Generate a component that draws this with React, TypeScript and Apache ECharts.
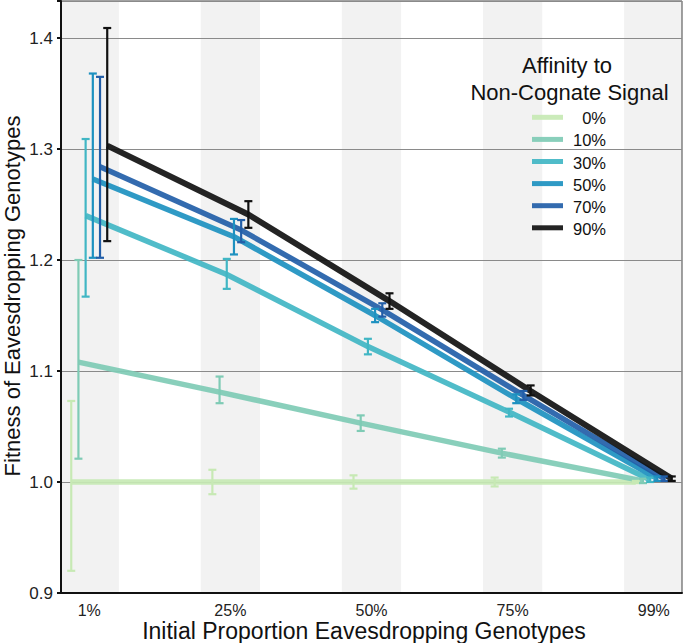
import React, { useEffect, useRef } from "react";
import * as echarts from "echarts";

// ---- data ----
const categories = ["1%", "25%", "50%", "75%", "99%"];
const seriesNames = ["0%", "10%", "30%", "50%", "70%", "90%"];
const seriesColors = ["#c7e9b4", "#7fcbb5", "#41b6c4", "#1d91c0", "#225ea8", "#111111"];

const mean0 = [1.0, 1.0, 1.0, 1.0, 1.0];
const mean10 = [1.108, 1.081, 1.053, 1.026, 1.001];
const mean30 = [1.24, 1.187, 1.122, 1.063, 1.002];
const mean50 = [1.273, 1.221, 1.15, 1.075, 1.003];
const mean70 = [1.284, 1.227, 1.155, 1.078, 1.003];
const mean90 = [1.303, 1.241, 1.163, 1.082, 1.003];

const low0 = [0.92, 0.989, 0.994, 0.996, 0.999];
const high0 = [1.073, 1.011, 1.006, 1.004, 1.001];
const low10 = [1.021, 1.071, 1.046, 1.022, 0.999];
const high10 = [1.2, 1.095, 1.06, 1.03, 1.003];
const low30 = [1.167, 1.174, 1.115, 1.059, 1.0];
const high30 = [1.309, 1.201, 1.129, 1.066, 1.004];
const low50 = [1.202, 1.205, 1.144, 1.071, 1.001];
const high50 = [1.368, 1.237, 1.156, 1.079, 1.005];
const low70 = [1.202, 1.216, 1.149, 1.074, 1.001];
const high70 = [1.365, 1.236, 1.161, 1.082, 1.005];
const low90 = [1.217, 1.229, 1.156, 1.078, 1.001];
const high90 = [1.409, 1.253, 1.17, 1.087, 1.005];

const yTicks = [0.9, 1.0, 1.1, 1.2, 1.3, 1.4];

const means = [mean0, mean10, mean30, mean50, mean70, mean90];
const lows = [low0, low10, low30, low50, low70, low90];
const highs = [high0, high10, high30, high50, high70, high90];

const FONT = "'Liberation Sans', Arial, Helvetica, sans-serif";
const Y_MIN = 0.9;
const Y_MAX = 0.9 + 592 / 1110;
const DODGE = 0.051;
const BAND_HALF = 0.21;

export default function App() {
  const ref = useRef<HTMLDivElement>(null);

  useEffect(() => {
    if (!ref.current) return;
    document.body.style.margin = "0";
    const chart = echarts.init(ref.current, null, { renderer: "svg" });

    const bandSeries = {
      type: "custom",
      z: 0,
      silent: true,
      data: categories.map((_, i) => [i]),
      encode: { x: 0 },
      renderItem: (params: any, api: any) => {
        const c = api.value(0);
        const cs = params.coordSys;
        const a = api.coord([c - BAND_HALF, Y_MIN]);
        const b = api.coord([c + BAND_HALF, Y_MIN]);
        const x0 = Math.max(cs.x, a[0]);
        const x1 = Math.min(cs.x + cs.width, b[0]);
        return {
          type: "rect",
          shape: { x: x0, y: cs.y, width: x1 - x0, height: cs.height },
          style: { fill: "#f2f2f2" },
        };
      },
    };

    const lineSeries = seriesNames.map((name, s) => {
      const off = (s - 2.5) * DODGE;
      return {
        type: "line",
        name,
        z: 3 + s * 0.1,
        symbol: "none",
        data: means[s].map((v, i) => [i + off, v]),
        lineStyle: { color: seriesColors[s], width: s === 5 ? 6 : 5.5, opacity: 0.92 },
        itemStyle: { color: seriesColors[s] },
      };
    });

    const errSeries = seriesNames.map((name, s) => {
      const off = (s - 2.5) * DODGE;
      const color = seriesColors[s];
      return {
        type: "custom",
        name: name + " err",
        z: 4,
        silent: true,
        data: means[s].map((_, i) => [i + off, lows[s][i], highs[s][i]]),
        encode: { x: 0, y: [1, 2] },
        renderItem: (params: any, api: any) => {
          const x = api.value(0);
          const p1 = api.coord([x, api.value(1)]);
          const p2 = api.coord([x, api.value(2)]);
          const hw = 4;
          const st = { stroke: color, lineWidth: 2.2 };
          return {
            type: "group",
            children: [
              { type: "line", shape: { x1: p1[0], y1: p1[1], x2: p2[0], y2: p2[1] }, style: st },
              { type: "line", shape: { x1: p1[0] - hw, y1: p1[1], x2: p1[0] + hw, y2: p1[1] }, style: st },
              { type: "line", shape: { x1: p2[0] - hw, y1: p2[1], x2: p2[0] + hw, y2: p2[1] }, style: st },
            ],
          };
        },
      };
    });

    const legendTop = 117.3;
    const legendStep = 22.1;
    const legendGraphics: any[] = [
      {
        type: "text",
        z: 100,
        x: 567,
        y: 65,
        style: { text: "Affinity to", font: `22px ${FONT}`, fill: "#111", align: "center", verticalAlign: "middle" },
      },
      {
        type: "text",
        z: 100,
        x: 569.5,
        y: 92,
        style: { text: "Non-Cognate Signal", font: `22px ${FONT}`, fill: "#111", align: "center", verticalAlign: "middle" },
      },
    ];
    seriesNames.forEach((name, s) => {
      const cy = legendTop + s * legendStep;
      legendGraphics.push({
        type: "rect",
        z: 100,
        shape: { x: 532, y: cy - 2.5, width: 31, height: 5 },
        style: { fill: seriesColors[s], opacity: 0.92 },
      });
      legendGraphics.push({
        type: "text",
        z: 100,
        x: 606,
        y: cy + 1,
        style: { text: name, font: `16.5px ${FONT}`, fill: "#111", align: "right", verticalAlign: "middle" },
      });
    });

    chart.setOption({
      animation: false,
      grid: {
        left: 61,
        right: 2,
        top: 1,
        bottom: 50,
        show: true,
        borderColor: "#444",
        borderWidth: 1,
        backgroundColor: "transparent",
        z: 1,
      },
      xAxis: {
        type: "value",
        min: -0.2,
        max: 4.2,
        interval: 0.2,
        z: 1,
        axisLine: { show: true, onZero: false, lineStyle: { color: "#111", width: 2 } },
        axisTick: { show: false },
        splitLine: { show: false },
        axisLabel: {
          margin: 9,
          fontSize: 16,
          fontFamily: FONT,
          color: "#222",
          formatter: (v: number) => {
            const r = Math.round(v);
            return Math.abs(v - r) < 1e-6 && r >= 0 && r < categories.length ? categories[r] : "";
          },
        },
      },
      yAxis: {
        type: "value",
        min: Y_MIN,
        max: Y_MAX,
        interval: 0.1,
        z: 1,
        axisLine: { show: true, onZero: false, lineStyle: { color: "#111", width: 2 } },
        axisTick: { show: true, length: 4, lineStyle: { color: "#111", width: 2 } },
        splitLine: { show: true, lineStyle: { color: "#8a8a8a", width: 1.2 } },
        axisLabel: {
          margin: 8,
          fontSize: 17,
          fontFamily: FONT,
          color: "#222",
          formatter: (v: number) => {
            const hit = yTicks.find((t) => Math.abs(t - v) < 1e-6);
            return hit !== undefined ? hit.toFixed(1) : "";
          },
        },
      },
      graphic: [
        {
          type: "text",
          z: 100,
          x: 364,
          y: 631,
          style: {
            text: "Initial Proportion Eavesdropping Genotypes",
            font: `23px ${FONT}`,
            fill: "#111",
            align: "center",
            verticalAlign: "middle",
          },
        },
        {
          type: "text",
          z: 100,
          x: 12,
          y: 296,
          rotation: Math.PI / 2,
          style: {
            text: "Fitness of Eavesdropping Genotypes",
            font: `22px ${FONT}`,
            fill: "#111",
            align: "center",
            verticalAlign: "middle",
          },
        },
        ...legendGraphics,
      ],
      series: [bandSeries, ...lineSeries, ...errSeries],
    });

    return () => chart.dispose();
  }, []);

  return <div ref={ref} style={{ width: 685, height: 643 }} />;
}
